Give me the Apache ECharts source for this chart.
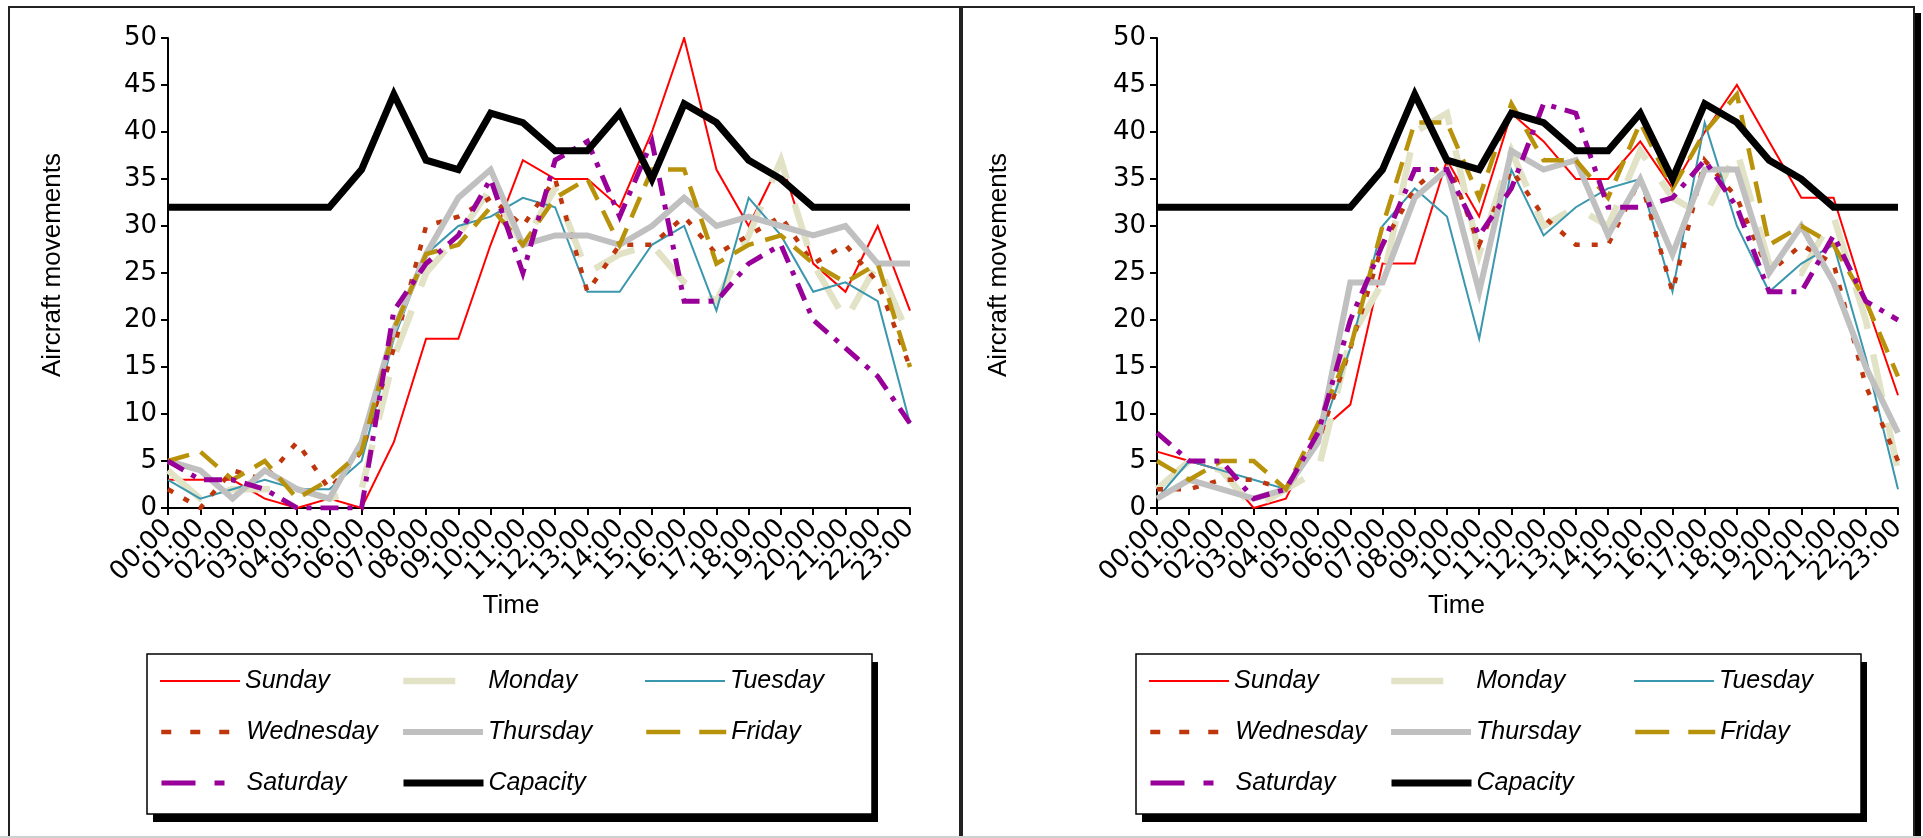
<!DOCTYPE html>
<html>
<head>
<meta charset="utf-8">
<script src="https://cdn.jsdelivr.net/npm/echarts@6/dist/echarts.min.js"></script>
<style>
html,body{margin:0;padding:0;background:#fff;}
#chart{width:1923px;height:838px;}
</style>
</head>
<body>
<div id="chart"></div>
<script>
// ---- data ----
const hours = ['00:00','01:00','02:00','03:00','04:00','05:00','06:00','07:00','08:00','09:00','10:00','11:00',
               '12:00','13:00','14:00','15:00','16:00','17:00','18:00','19:00','20:00','21:00','22:00','23:00'];
const yTicks = [0,5,10,15,20,25,30,35,40,45,50];
const seriesNames = ['Sunday','Monday','Tuesday','Wednesday','Thursday','Friday','Saturday','Capacity'];

// left chart
const L_sun = [3,3,3,1,0,1,0,7,18,18,28,37,35,35,32,40,50,36,30,37,26,23,30,21];
const L_mon = [4,1,2,2,2,1,2,16,25,29,34,28,34,25,27,28,24,22,29,37,26,20,26,18];
const L_tue = [3,1,2,3,2,2,5,18,27,30,31,33,32,23,23,28,30,21,33,29,23,24,22,9];
const L_wed = [2,0,4,3,7,2,6,17,30,31,33,30,35,23,28,28,31,27,29,31,26,28,24,15];
const L_thu = [5,4,1,4,2,1,7,19,27,33,36,28,29,29,28,30,33,30,31,30,29,30,26,26];
const L_fri = [5,6,3,5,1,3,6,19,27,28,32,28,33,35,28,36,36,26,28,29,26,24,26,15];
const L_sat = [5,3,3,2,0,0,0,21,26,29,35,25,37,39,31,39,22,22,26,28,20,17,14,9];
const L_cap = [32,32,32,32,32,32,36,44,37,36,42,41,38,38,42,35,43,41,37,35,32,32,32,32];

// right chart
const R_sun = [6,5,4,0,1,8,11,26,26,37,31,42,39,35,35,39,34,40,45,39,33,33,22,12];
const R_mon = [2,5,4,0,2,4,18,24,40,42,27,38,30,32,30,38,33,31,38,26,25,31,20,4];
const R_tue = [1,5,4,3,2,7,17,30,34,31,18,36,29,32,34,35,23,41,30,23,26,28,16,2];
const R_wed = [2,2,3,3,2,7,17,28,34,37,28,36,31,28,28,35,23,37,33,25,28,26,13,5];
const R_thu = [1,3,2,1,2,7,24,24,33,36,23,38,36,37,29,35,27,36,36,25,30,24,15,8];
const R_fri = [5,3,5,5,2,9,17,30,41,41,33,43,37,37,33,41,34,40,44,28,30,28,22,14];
const R_sat = [8,5,5,1,2,8,20,28,36,36,29,34,43,42,32,32,33,37,32,23,23,29,22,20];
const R_cap = [32,32,32,32,32,32,32,36,44,37,36,42,41,38,38,42,35,43,41,37,35,32,32,32];

// ---- styles ----
const styles = {
  Sunday:    {color:'#ff0000', width:2,   type:'solid'},
  Monday:    {color:'#e2e2c6', width:6.5, type:[44,26]},
  Tuesday:   {color:'#3a97ad', width:2,   type:'solid'},
  Wednesday: {color:'#bf360c', width:4.5, type:[6,12]},
  Thursday:  {color:'#c0c0c0', width:6,   type:'solid'},
  Friday:    {color:'#b8920a', width:4.5, type:[22,12]},
  Saturday:  {color:'#990099', width:5,   type:[18,9,5,9]},
  Capacity:  {color:'#000000', width:7,   type:'solid'}
};
const legendIconType = {
  Sunday:'solid', Monday:[52,40], Tuesday:'solid', Wednesday:[10,19], Thursday:'solid',
  Friday:[34,19], Saturday:[34,19,10,19], Capacity:'solid'
};
// legend grid: column and row of each entry
const legendCol = {Sunday:0, Monday:1, Tuesday:2, Wednesday:0, Thursday:1, Friday:2, Saturday:0, Capacity:1};
const legendRow = {Sunday:0, Monday:0, Tuesday:0, Wednesday:1, Thursday:1, Friday:1, Saturday:2, Capacity:2};

const leftData = [L_sun,L_mon,L_tue,L_wed,L_thu,L_fri,L_sat,L_cap];
const rightData = [R_sun,R_mon,R_tue,R_wed,R_thu,R_fri,R_sat,R_cap];

const FONT = "'Liberation Sans', Arial, Helvetica, sans-serif";
const TICKFONT = "'DejaVu Sans', 'Liberation Sans', Arial, sans-serif";

function makeSeries(dataArr, idx) {
  return seriesNames.map((n, i) => ({
    name: n, type: 'line', xAxisIndex: idx, yAxisIndex: idx,
    data: dataArr[i], symbol: 'none', smooth: false, animation: false,
    lineStyle: {color: styles[n].color, width: styles[n].width, type: styles[n].type, cap: 'butt', join: 'miter'},
    itemStyle: {color: styles[n].color},
    emphasis: {disabled: true}
  }));
}

function makeXAxis(idx, namePadRight) {
  return {
    gridIndex: idx, type: 'category', data: hours, boundaryGap: false,
    axisLine: {show: true, lineStyle: {color: '#000', width: 2}},
    axisTick: {show: true, length: 7, interval: 0, lineStyle: {color: '#000', width: 2}},
    axisLabel: {interval: 0, rotate: 45, margin: 16, color: '#000', fontSize: 26, fontFamily: TICKFONT},
    splitLine: {show: false},
    name: 'Time', nameLocation: 'middle', nameGap: 84,
    nameTextStyle: {color: '#000', fontSize: 26, fontFamily: FONT, padding: [0, namePadRight, 0, 0]}
  };
}
function makeYAxis(idx, gap) {
  return {
    gridIndex: idx, type: 'value', min: yTicks[0], max: yTicks[yTicks.length-1], interval: 5,
    axisLine: {show: true, lineStyle: {color: '#000', width: 2}},
    axisTick: {show: true, length: 7, lineStyle: {color: '#000', width: 2}},
    axisLabel: {margin: 11, color: '#000', fontSize: 26, fontFamily: TICKFONT},
    splitLine: {show: false},
    name: 'Aircraft movements', nameLocation: 'middle', nameGap: gap, nameRotate: 90,
    nameTextStyle: {color: '#000', fontSize: 26, fontFamily: FONT, padding: [0, 0, 0, 16]}
  };
}
// one legend component per entry, placed on a 3-column grid inside the box
function makeLegends(colX, rowY) {
  return seriesNames.map(n => ({
    left: colX[legendCol[n]], top: rowY[legendRow[n]] - 15, orient: 'horizontal',
    itemWidth: 80, itemHeight: 14, itemGap: 0, padding: 0,
    selectedMode: false, z: 20,
    textStyle: {color: '#000', fontSize: 25, fontStyle: 'italic', fontFamily: FONT, lineHeight: 30},
    data: [{
      name: n,
      lineStyle: {color: styles[n].color, width: styles[n].width, type: legendIconType[n], cap: 'butt'},
      itemStyle: {color: 'rgba(0,0,0,0)', borderWidth: 0, opacity: 0}
    }]
  }));
}
const rowY = [681, 732, 783];
const legendsL = makeLegends([159, 400, 644], rowY);
const legendsR = makeLegends([1148, 1388, 1633], rowY);

function legendBox(x, y, w, h) {
  return [
    {type: 'rect', z: 5, silent: true, shape: {x: x + 6, y: y + 8, width: w, height: h}, style: {fill: '#000'}},
    {type: 'rect', z: 6, silent: true, shape: {x: x, y: y, width: w, height: h},
     style: {fill: '#fff', stroke: '#000', lineWidth: 1.5}}
  ];
}

const chart = echarts.init(document.getElementById('chart'), null, {renderer: 'canvas'});
chart.setOption({
  animation: false,
  backgroundColor: '#fff',
  graphic: [
    {type: 'rect', z: -10, silent: true, shape: {x: 9, y: 7, width: 951, height: 836},
     style: {fill: '#fff', stroke: '#222', lineWidth: 2}},
    {type: 'rect', z: -9, silent: true, shape: {x: 969, y: 13, width: 952, height: 836},
     style: {fill: '#000'}},
    {type: 'rect', z: -8, silent: true, shape: {x: 962, y: 7, width: 952, height: 836},
     style: {fill: '#fff', stroke: '#222', lineWidth: 2}},
    {type: 'line', z: -7, silent: true, shape: {x1: 0, y1: 837, x2: 1923, y2: 837},
     style: {stroke: '#d0d0d0', lineWidth: 2}}
  ].concat(legendBox(147, 654, 725, 160), legendBox(1136, 654, 725, 160)),
  grid: [
    {left: 168, top: 38, width: 742, height: 470},
    {left: 1157, top: 38, width: 741, height: 470}
  ],
  xAxis: [makeXAxis(0, 56), makeXAxis(1, 142)],
  yAxis: [makeYAxis(0, 102), makeYAxis(1, 145)],
  legend: legendsL.concat(legendsR),
  series: makeSeries(leftData, 0).concat(makeSeries(rightData, 1))
});
</script>
</body>
</html>
